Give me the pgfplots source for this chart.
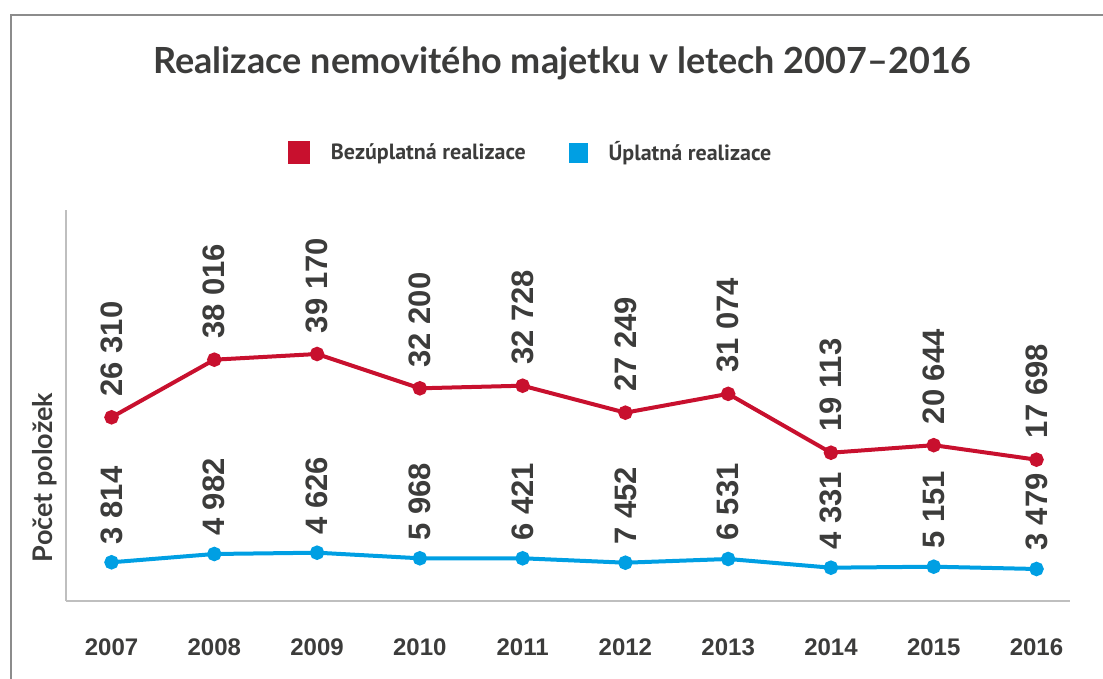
\documentclass[border=0pt]{standalone}
\usepackage{fontspec}
\setmainfont{Liberation Sans}
\newfontfamily\titlefont{Lato}
\newfontfamily\legendfont{PT Sans}
\usepackage{pgfplots}
\pgfplotsset{compat=1.18}
\definecolor{redline}{HTML}{C8102E}
\definecolor{blueline}{HTML}{009FE3}
\definecolor{txt}{HTML}{3C3C3B}
\definecolor{framegray}{HTML}{8C8C8C}
\definecolor{axisgray}{HTML}{BFBFBF}

\pgfplotsset{
  base/.style={
    at={(33pt,39pt)}, anchor=south west,
    width=502pt, height=195.5pt, scale only axis,
    xmin=2006.557, xmax=2016.326,
    clip=false,
    point meta=explicit symbolic,
    nodes near coords,
    nodes near coords style={font=\bfseries\fontsize{15.5}{18}\selectfont, text=txt,
      rotate=90, anchor=west, inner ysep=0pt},
  },
  series/.style={line width=2pt, mark=*, mark size=2.6pt, mark options={solid}},
}

\begin{document}
\begin{tikzpicture}
\path[use as bounding box] (0,0) rectangle (551.5pt,339.5pt);
\clip (0,0) rectangle (551.5pt,339.5pt);
\draw[framegray, line width=1pt] (5.4pt,-2pt) -- (5.4pt,332pt) -- (560pt,332pt);

% red series, visible axis lines
\begin{axis}[base,
  ymin=-11012, ymax=68427,
  axis x line*=bottom, axis y line*=left,
  axis line style={axisgray, line width=1.3pt, -},
  xtick={2007,2008,...,2016},
  xticklabels={2007,2008,2009,2010,2011,2012,2013,2014,2015,2016},
  ytick=\empty, major tick length=0pt,
  xticklabel style={font=\bfseries\fontsize{12}{14}\selectfont, text=txt, anchor=center, yshift=-23pt},
  nodes near coords style={inner xsep=9.5pt},
  legend columns=2,
  legend style={at={(0.2211,1.1466)}, anchor=west, draw=none, fill=none,
    inner sep=0pt, outer sep=0pt,
    font=\legendfont\bfseries\fontsize{11}{13}\selectfont, text=txt,
    nodes={inner sep=0pt},
    /tikz/every odd column/.append style={column sep=10.5pt},
    /tikz/every even column/.append style={column sep=21.5pt}},
  legend image code/.code={\fill (0pt,-4.75pt) rectangle (9pt,4.75pt);},
]
\addplot[series, redline] coordinates {
  (2007,26310) [26 310]
  (2008,38016) [38 016]
  (2009,39170) [39 170]
  (2010,32200) [32 200]
  (2011,32728) [32 728]
  (2012,27249) [27 249]
  (2013,31074) [31 074]
  (2014,19113) [19 113]
  (2015,20644) [20 644]
  (2016,17698) [17 698]
};
\addlegendentry{Bezúplatná realizace}
\addlegendimage{blueline}
\addlegendentry{Úplatná realizace}
\end{axis}

% blue series, drawn on its own hidden scale
\begin{axis}[base,
  ymin=0, ymax=38553,
  hide axis,
  nodes near coords style={inner xsep=8pt},
]
\addplot[series, blueline] coordinates {
  (2007,3816) [3 814]
  (2008,4634) [4 982]
  (2009,4762) [4 626]
  (2010,4210) [5 968]
  (2011,4210) [6 421]
  (2012,3776) [7 452]
  (2013,4141) [6 531]
  (2014,3283) [4 331]
  (2015,3382) [5 151]
  (2016,3155) [3 479]
};
\end{axis}

\node[anchor=base, text=txt, font=\titlefont\bfseries\fontsize{18}{22}\selectfont]
  at (281.25pt,302.5pt) {Realizace nemovitého majetku v letech 2007–2016};
\node[anchor=base, rotate=90, text=txt, font=\titlefont\bfseries\fontsize{13.5}{16}\selectfont]
  at (26pt,100.75pt) {Počet položek};
\end{tikzpicture}
\end{document}
